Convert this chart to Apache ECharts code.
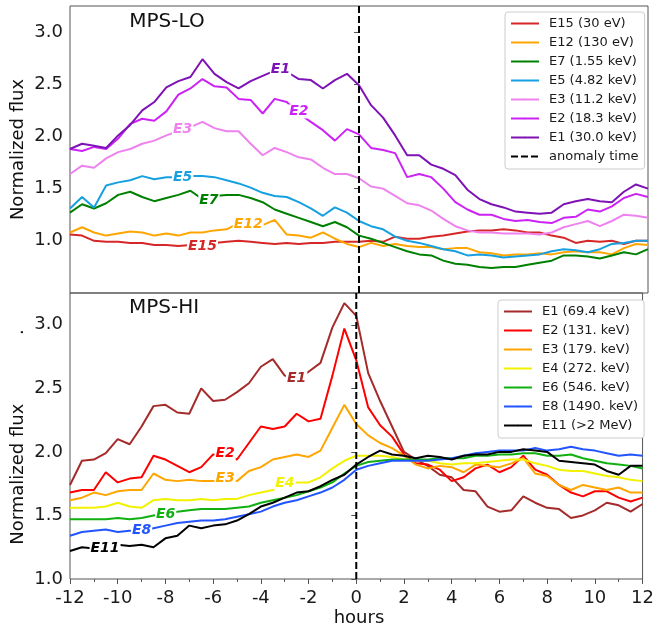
<!DOCTYPE html>
<html>
<head>
<meta charset="utf-8">
<script src="https://cdn.jsdelivr.net/npm/echarts@6/dist/echarts.min.js"></script>
<style>
html, body { margin: 0; padding: 0; background: #fff; }
#chart { width: 657px; height: 633px; }
</style>
</head>
<body>
<div id="chart"></div>
<script>
// time axis (hours from anomaly)
var hours = [-12,-11.5,-11,-10.5,-10,-9.5,-9,-8.5,-8,-7.5,-7,-6.5,-6,-5.5,-5,-4.5,-4,-3.5,-3,-2.5,-2,-1.5,-1,-0.5,
             0,0.5,1,1.5,2,2.5,3,3.5,4,4.5,5,5.5,6,6.5,7,7.5,8,8.5,9,9.5,10,10.5,11,11.5,12];
var anomalyHour = 0;

// MPS-LO normalized flux
var lo_E15 = [1.06,1.05,1.00,0.99,0.99,0.98,0.98,0.96,0.96,0.95,0.96,0.95,0.98,0.99,1.00,0.99,0.98,0.97,0.98,0.97,0.98,0.98,0.99,0.99,
              0.99,1.00,0.99,1.04,1.02,1.02,1.04,1.05,1.07,1.09,1.10,1.10,1.11,1.10,1.08,1.08,1.05,1.03,0.98,1.00,0.99,1.00,0.97,1.00,1.00];
var lo_E12 = [1.08,1.13,1.08,1.05,1.07,1.09,1.08,1.05,1.07,1.05,1.08,1.08,1.10,1.11,1.17,1.16,1.15,1.20,1.06,1.05,1.03,1.08,1.02,0.97,
              0.94,0.98,0.95,0.97,0.95,0.94,0.94,0.92,0.93,0.93,0.89,0.88,0.86,0.87,0.87,0.88,0.87,0.89,0.90,0.89,0.89,0.87,0.93,0.97,0.96];
var lo_E7  = [1.27,1.35,1.31,1.36,1.44,1.47,1.42,1.38,1.41,1.44,1.48,1.40,1.43,1.44,1.44,1.41,1.37,1.30,1.26,1.22,1.18,1.14,1.18,1.13,
              1.05,1.02,0.98,0.94,0.90,0.87,0.86,0.81,0.78,0.77,0.75,0.74,0.75,0.75,0.77,0.79,0.81,0.86,0.86,0.85,0.83,0.86,0.89,0.87,0.92];
var lo_E5  = [1.31,1.42,1.32,1.53,1.56,1.58,1.62,1.59,1.61,1.61,1.62,1.62,1.61,1.58,1.55,1.51,1.46,1.43,1.42,1.37,1.31,1.24,1.32,1.27,
              1.19,1.14,1.11,1.04,1.00,0.98,0.95,0.92,0.90,0.86,0.87,0.86,0.84,0.85,0.86,0.87,0.90,0.92,0.91,0.89,0.92,0.97,0.98,1.00,1.00];
var lo_E3  = [1.64,1.72,1.70,1.79,1.85,1.88,1.93,1.96,2.01,2.05,2.09,2.14,2.08,2.05,2.05,1.93,1.82,1.89,1.85,1.80,1.78,1.70,1.64,1.64,
              1.60,1.52,1.50,1.43,1.36,1.34,1.29,1.21,1.14,1.10,1.08,1.08,1.07,1.07,1.07,1.06,1.08,1.13,1.16,1.19,1.14,1.19,1.25,1.24,1.22];
var lo_E2  = [1.88,1.86,1.90,1.88,1.98,2.12,2.17,2.15,2.24,2.40,2.46,2.55,2.48,2.47,2.36,2.35,2.22,2.36,2.33,2.22,2.14,2.06,1.96,2.07,
              2.02,1.89,1.87,1.84,1.61,1.64,1.61,1.50,1.37,1.30,1.25,1.25,1.21,1.19,1.20,1.18,1.17,1.22,1.23,1.30,1.28,1.33,1.41,1.45,1.42];
var lo_E1  = [1.88,1.93,1.91,1.89,2.01,2.11,2.25,2.33,2.47,2.53,2.57,2.74,2.60,2.52,2.46,2.53,2.58,2.63,2.62,2.55,2.54,2.46,2.54,2.60,
              2.49,2.30,2.18,2.01,1.82,1.82,1.73,1.69,1.63,1.49,1.40,1.35,1.32,1.28,1.27,1.26,1.27,1.35,1.38,1.40,1.38,1.37,1.47,1.54,1.50];

// MPS-HI normalized flux
var hi_E1  = [1.74,1.93,1.94,1.99,2.10,2.06,2.20,2.36,2.37,2.31,2.30,2.50,2.40,2.41,2.47,2.54,2.67,2.73,2.60,2.58,2.63,2.70,2.98,3.17,
              3.07,2.62,2.40,2.20,2.00,1.94,1.89,1.82,1.80,1.70,1.69,1.57,1.53,1.54,1.65,1.60,1.56,1.55,1.48,1.50,1.54,1.60,1.58,1.53,1.59];
var hi_E2  = [1.68,1.70,1.70,1.84,1.76,1.79,1.80,1.97,1.94,1.89,1.84,1.88,1.98,1.98,1.94,2.07,2.20,2.18,2.20,2.30,2.24,2.26,2.60,2.97,
              2.72,2.35,2.21,2.12,1.98,1.91,1.90,1.86,1.77,1.80,1.87,1.90,1.84,1.88,1.97,1.86,1.82,1.74,1.68,1.65,1.69,1.69,1.64,1.61,1.64];
var hi_E3  = [1.62,1.64,1.68,1.66,1.69,1.70,1.70,1.83,1.78,1.77,1.78,1.77,1.77,1.79,1.77,1.85,1.88,1.94,1.96,1.98,1.96,2.01,2.19,2.37,
              2.22,2.13,2.07,2.03,1.97,1.90,1.87,1.89,1.88,1.84,1.90,1.89,1.88,1.91,1.95,1.83,1.81,1.74,1.70,1.74,1.72,1.70,1.72,1.68,1.68];
var hi_E4  = [1.56,1.56,1.56,1.57,1.60,1.57,1.56,1.62,1.63,1.62,1.62,1.63,1.62,1.63,1.63,1.66,1.68,1.70,1.73,1.76,1.76,1.80,1.87,1.93,
              1.97,1.97,1.97,1.96,1.94,1.93,1.93,1.91,1.90,1.91,1.91,1.92,1.93,1.94,1.94,1.91,1.89,1.86,1.85,1.85,1.83,1.81,1.80,1.78,1.77];
var hi_E6  = [1.47,1.47,1.47,1.47,1.48,1.47,1.48,1.50,1.51,1.53,1.54,1.55,1.55,1.55,1.56,1.57,1.60,1.62,1.64,1.66,1.69,1.72,1.76,1.83,
              1.89,1.92,1.93,1.94,1.94,1.94,1.94,1.95,1.95,1.95,1.97,1.97,1.98,1.98,1.99,1.99,1.97,1.97,1.98,1.95,1.93,1.91,1.90,1.89,1.87];
var hi_E8  = [1.34,1.37,1.38,1.39,1.37,1.38,1.38,1.40,1.42,1.44,1.45,1.46,1.46,1.47,1.49,1.51,1.53,1.57,1.60,1.62,1.65,1.68,1.72,1.78,
              1.86,1.89,1.91,1.93,1.93,1.93,1.93,1.94,1.95,1.97,1.99,2.00,2.01,2.01,2.01,2.03,2.01,2.02,2.04,2.02,2.01,1.99,1.97,1.98,1.97];
var hi_E11 = [1.22,1.25,1.24,1.25,1.27,1.26,1.27,1.25,1.32,1.34,1.42,1.40,1.42,1.43,1.46,1.51,1.57,1.60,1.64,1.68,1.69,1.73,1.78,1.82,
              1.90,1.96,2.01,1.98,1.97,1.95,1.97,1.96,1.94,1.97,1.98,1.98,2.00,2.00,2.02,2.01,2.00,1.93,1.92,1.91,1.90,1.85,1.82,1.89,1.89];

var loNames  = ['E15 (30 eV)', 'E12 (130 eV)', 'E7 (1.55 keV)', 'E5 (4.82 keV)', 'E3 (11.2 keV)', 'E2 (18.3 keV)', 'E1 (30.0 keV)'];
var loTags   = ['E15', 'E12', 'E7', 'E5', 'E3', 'E2', 'E1'];
var loValues = [lo_E15, lo_E12, lo_E7, lo_E5, lo_E3, lo_E2, lo_E1];
var loColors = ['#d62728', '#ffa500', '#008000', '#17a0e0', '#ee82ee', '#cc22f5', '#7e12b5'];
var loTagAt  = [[-6.5, 0.95], [-4.6, 1.16], [-6.23, 1.39], [-7.32, 1.61], [-7.32, 2.07], [-2.5, 2.24], [-3.26, 2.64]];

var hiNames  = ['E1 (69.4 keV)', 'E2 (131. keV)', 'E3 (179. keV)', 'E4 (272. keV)', 'E6 (546. keV)', 'E8 (1490. keV)', 'E11 (>2 MeV)'];
var hiTags   = ['E1', 'E2', 'E3', 'E4', 'E6', 'E8', 'E11'];
var hiValues = [hi_E1, hi_E2, hi_E3, hi_E4, hi_E6, hi_E8, hi_E11];
var hiColors = ['#a52a2a', '#ff0000', '#ffa500', '#f2f200', '#10b010', '#2255ff', '#000000'];
var hiTagAt  = [[-2.5, 2.58], [-5.5, 1.99], [-5.5, 1.79], [-2.99, 1.75], [-7.99, 1.51], [-9.0, 1.38], [-10.53, 1.24]];

var loTicks = [1.0, 1.5, 2.0, 2.5, 3.0];
var hiTicks = [1.0, 1.5, 2.0, 2.5, 3.0];

var FONT = 'DejaVu Sans';
var AXIS = '#555';

function fluxSeries(name, values, color, idx, tag, at) {
    return {
        name: name,
        type: 'line',
        xAxisIndex: idx,
        yAxisIndex: idx,
        data: hours.map(function (h, i) { return [h, values[i]]; }),
        symbol: 'none',
        lineStyle: { color: color, width: 2 },
        itemStyle: { color: color },
        emphasis: { disabled: true },
        markPoint: {
            symbol: 'rect',
            symbolSize: 1,
            silent: true,
            itemStyle: { color: 'rgba(0,0,0,0)' },
            label: {
                show: true,
                position: 'inside',
                formatter: tag,
                color: color,
                fontFamily: FONT,
                fontSize: 14,
                fontWeight: 'bold',
                fontStyle: 'italic',
                backgroundColor: '#fff',
                padding: [0, 1]
            },
            data: [{ coord: at }]
        }
    };
}

function yAxis(idx, min, ticks) {
    return {
        type: 'value',
        gridIndex: idx,
        min: min,
        max: 3.25,
        interval: 0.5,
        axisLine: { show: false },
        splitLine: { show: false },
        axisTick: { show: true, length: 5, customValues: ticks, lineStyle: { color: AXIS } },
        axisLabel: {
            customValues: ticks,
            margin: 7,
            fontSize: 18,
            fontFamily: FONT,
            color: '#1a1a1a',
            formatter: function (v) { return v.toFixed(1); }
        }
    };
}

function legend(names, left, top) {
    return {
        data: names,
        orient: 'vertical',
        left: left,
        top: top,
        itemWidth: 28,
        itemHeight: 2,
        itemGap: 0,
        padding: [2, 6, 3, 5],
        backgroundColor: '#fff',
        borderColor: '#ccc',
        borderWidth: 1,
        borderRadius: 3,
        selectedMode: false,
        textStyle: { fontFamily: FONT, fontSize: 13, lineHeight: 19, color: '#1a1a1a', padding: [0, 0, 0, 5] }
    };
}

var series = [];
loNames.forEach(function (n, i) {
    series.push(fluxSeries(n, loValues[i], loColors[i], 0, loTags[i], loTagAt[i]));
});
hiNames.forEach(function (n, i) {
    series.push(fluxSeries(n, hiValues[i], hiColors[i], 1, hiTags[i], hiTagAt[i]));
});
[[0, 0.5], [1, 1.0]].forEach(function (p) {
    series.push({
        name: 'anomaly time',
        type: 'line',
        xAxisIndex: p[0],
        yAxisIndex: p[0],
        data: [[anomalyHour, p[1]], [anomalyHour, 3.25]],
        symbol: 'none',
        lineStyle: { color: '#000', width: 2, type: [7, 3] },
        itemStyle: { color: '#000' },
        emphasis: { disabled: true },
        z: 5
    });
});

var chart = echarts.init(document.getElementById('chart'));
chart.setOption({
    animation: false,
    textStyle: { fontFamily: FONT },
    grid: [
        { left: 70, top: 6, width: 578, height: 287, show: true, borderColor: AXIS, borderWidth: 1, backgroundColor: 'transparent' },
        { left: 70, top: 293, width: 578, height: 286, show: true, borderColor: AXIS, borderWidth: 1, backgroundColor: 'transparent' }
    ],
    xAxis: [
        {
            type: 'value', gridIndex: 0, min: -12, max: 12, interval: 2,
            axisLine: { show: false }, axisTick: { show: false }, axisLabel: { show: false }, splitLine: { show: false }
        },
        {
            type: 'value', gridIndex: 1, min: -12, max: 12, interval: 2,
            axisLine: { show: false },
            splitLine: { show: false },
            axisTick: { show: true, length: 5, lineStyle: { color: AXIS } },
            minorTick: { show: true, splitNumber: 2, length: 3, lineStyle: { color: AXIS } },
            axisLabel: { margin: 10, fontSize: 18, fontFamily: FONT, color: '#1a1a1a' }
        }
    ],
    yAxis: [yAxis(0, 0.5, loTicks), yAxis(1, 1.0, hiTicks)],
    legend: [legend(loNames.concat(['anomaly time']), 505, 12), legend(hiNames, 498, 300)],
    graphic: [
        { type: 'text', x: 167, y: 22, style: { text: 'MPS-LO', font: '20px DejaVu Sans', fill: '#111', align: 'center', verticalAlign: 'middle' } },
        { type: 'text', x: 164, y: 308, style: { text: 'MPS-HI', font: '20px DejaVu Sans', fill: '#111', align: 'center', verticalAlign: 'middle' } },
        { type: 'text', x: 18, y: 149.5, rotation: Math.PI / 2, style: { text: 'Normalized flux', font: '18px DejaVu Sans', fill: '#111', align: 'center', verticalAlign: 'middle' } },
        { type: 'text', x: 18, y: 437, rotation: Math.PI / 2, style: { text: 'Normalized flux            .', font: '18px DejaVu Sans', fill: '#111', align: 'center', verticalAlign: 'middle' } },
        { type: 'text', x: 359, y: 618, style: { text: 'hours', font: '18px DejaVu Sans', fill: '#111', align: 'center', verticalAlign: 'middle' } }
    ],
    series: series
});
window.addEventListener('resize', function () { chart.resize(); });
</script>
</body>
</html>
